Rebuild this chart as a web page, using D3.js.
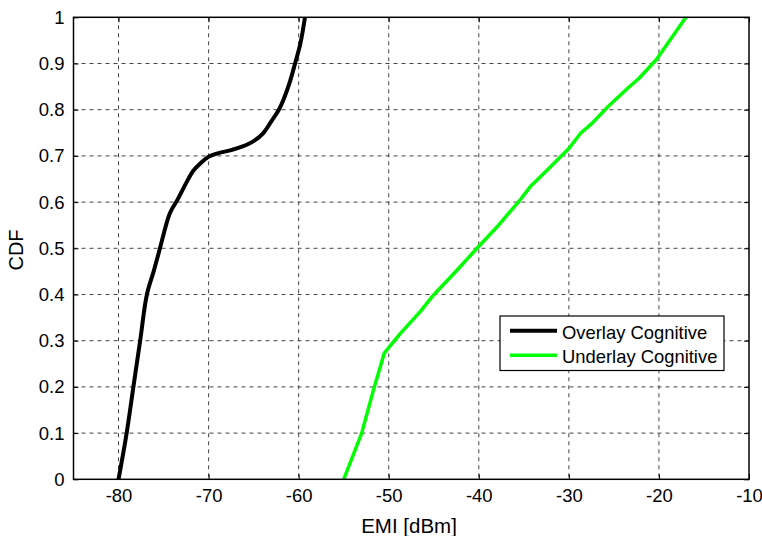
<!DOCTYPE html>
<html>
<head>
<meta charset="utf-8">
<script src="https://cdn.jsdelivr.net/npm/d3@7"></script>
<style>
  html, body { margin: 0; padding: 0; background: #fff; }
  svg { display: block; font-family: "Liberation Sans", Arial, Helvetica, sans-serif; }
</style>
</head>
<body>
<svg id="chart" width="762" height="536"></svg>
<script>
// EMI levels (dBm) and cumulative probability for each scheme
const overlayEmi = [-80, -79.1, -78.35, -77.6, -76.85, -76.1, -75.4, -74.3, -73.4, -72.5, -71.7, -70.9, -70.0, -68.9, -67.6, -66.3, -65.0, -63.9, -63.0, -62.2, -61.6, -60.95, -60.4, -59.8, -59.3];
const overlayCdf = [0, 0.1, 0.2, 0.3, 0.4, 0.45, 0.5, 0.576, 0.607, 0.641, 0.668, 0.684, 0.698, 0.706, 0.712, 0.72, 0.732, 0.75, 0.776, 0.80, 0.826, 0.862, 0.9, 0.944, 1.0];

const underlayEmi = [-55, -53.0, -51.7, -50.5, -48.7, -46.5, -45.2, -42.4, -40.2, -37.8, -35.4, -34.3, -32.0, -30.0, -28.7, -27.4, -25.7, -23.5, -22.2, -20.3, -17.0];
const underlayCdf = [0, 0.1, 0.193, 0.273, 0.316, 0.363, 0.395, 0.453, 0.5, 0.55, 0.605, 0.633, 0.677, 0.716, 0.749, 0.771, 0.806, 0.846, 0.868, 0.908, 1.0];

const seriesNames = ["Overlay Cognitive", "Underlay Cognitive"];
const seriesColors = ["#000000", "#00ff00"];

const xTicks = [-80, -70, -60, -50, -40, -30, -20, -10];
const yTicks = [0, 0.1, 0.2, 0.3, 0.4, 0.5, 0.6, 0.7, 0.8, 0.9, 1];

const xLabel = "EMI [dBm]";
const yLabel = "CDF";

const svg = d3.select("#chart");
const m = { left: 73.5, right: 749, top: 17.3, bottom: 479.3 };

const x = d3.scaleLinear().domain([-85, -10]).range([m.left, m.right]);
const y = d3.scaleLinear().domain([0, 1]).range([m.bottom, m.top]);

// dashed grid
const grid = svg.append("g");
grid.selectAll("line.gx").data(xTicks.filter(d => d > -85 && d < -10)).join("line")
  .attr("x1", d => x(d)).attr("x2", d => x(d))
  .attr("y1", m.top).attr("y2", m.bottom)
  .attr("stroke", "#444").attr("stroke-width", 1).attr("stroke-dasharray", "4,4");
grid.selectAll("line.gy").data(yTicks.filter(d => d > 0 && d < 1)).join("line")
  .attr("x1", m.left).attr("x2", m.right)
  .attr("y1", d => y(d)).attr("y2", d => y(d))
  .attr("stroke", "#444").attr("stroke-width", 1).attr("stroke-dasharray", "4,4");

// axes (ticks pointing inward, boxed)
const fmtX = d => String(d);   // plain hyphen-minus
const fmtY = d => d === 0 ? "0" : d === 1 ? "1" : d.toFixed(1);
function styleAxis(g) {
  g.select(".domain").remove();
  g.selectAll(".tick line").attr("stroke", "#000");
  g.selectAll(".tick text").attr("fill", "#000").style("font-size", "18.5px")
    .style("font-family", '"Liberation Sans", Arial, sans-serif');
}
svg.append("g").attr("transform", `translate(0,${m.bottom})`)
  .call(d3.axisBottom(x).tickValues(xTicks).tickSize(-5).tickPadding(10).tickFormat(fmtX))
  .call(styleAxis);
svg.append("g").attr("transform", `translate(0,${m.top})`)
  .call(d3.axisTop(x).tickValues(xTicks).tickSize(-5).tickFormat(""))
  .call(styleAxis);
svg.append("g").attr("transform", `translate(${m.left},0)`)
  .call(d3.axisLeft(y).tickValues(yTicks).tickSize(-5).tickPadding(9).tickFormat(fmtY))
  .call(styleAxis);
svg.append("g").attr("transform", `translate(${m.right},0)`)
  .call(d3.axisRight(y).tickValues(yTicks).tickSize(-5).tickFormat(""))
  .call(styleAxis);

// curves: overlay is smooth, underlay is piecewise linear
const series = [
  d3.zip(overlayEmi, overlayCdf),
  d3.zip(underlayEmi, underlayCdf)
];
const curves = [d3.curveCatmullRom.alpha(0.5), d3.curveLinear];
const widths = [4, 3.5];
series.forEach((pts, i) => {
  const line = d3.line().x(d => x(d[0])).y(d => y(d[1])).curve(curves[i]);
  svg.append("path").datum(pts).attr("d", line)
    .attr("fill", "none").attr("stroke", seriesColors[i])
    .attr("stroke-width", widths[i]).attr("stroke-linejoin", "round");
});

// box
svg.append("rect").attr("x", m.left).attr("y", m.top)
  .attr("width", m.right - m.left).attr("height", m.bottom - m.top)
  .attr("fill", "none").attr("stroke", "#000").attr("stroke-width", 1.5);

// axis titles
svg.append("text").attr("x", 409).attr("y", 533)
  .attr("text-anchor", "middle").style("font-size", "20.5px").text(xLabel);
svg.append("text").attr("transform", "translate(23,250) rotate(-90)")
  .attr("text-anchor", "middle").style("font-size", "20px").text(yLabel);

// legend
const lg = svg.append("g");
lg.append("rect").attr("x", 500).attr("y", 316).attr("width", 224).attr("height", 54.5)
  .attr("fill", "#fff").attr("stroke", "#000").attr("stroke-width", 1.2);
seriesNames.forEach((name, i) => {
  const ly = 330.7 + i * 24.5;
  lg.append("line").attr("x1", 510).attr("x2", 557).attr("y1", ly).attr("y2", ly)
    .attr("stroke", seriesColors[i]).attr("stroke-width", widths[i]);
  lg.append("text").attr("x", 562).attr("y", ly + 1.5).attr("dy", "0.35em")
    .style("font-size", "18.4px").text(name);
});
</script>
</body>
</html>
